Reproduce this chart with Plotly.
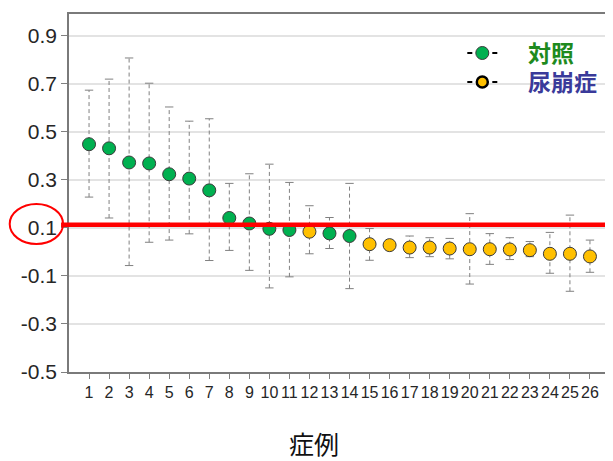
import plotly.graph_objects as go

cases = list(range(1, 27))
means = [0.448, 0.431, 0.372, 0.368, 0.323, 0.305, 0.256, 0.141, 0.118, 0.096, 0.091, 0.084, 0.077,
         0.066, 0.032, 0.028, 0.018, 0.018, 0.014, 0.011, 0.011, 0.010, 0.007, -0.008, -0.008, -0.019]
upper = [0.673, 0.719, 0.807, 0.702, 0.603, 0.544, 0.554, 0.285, 0.325, 0.365, 0.289, 0.192, 0.143,
         0.285, 0.097, 0.045, 0.066, 0.059, 0.056, 0.159, 0.076, 0.059, 0.043, 0.081, 0.153, 0.049]
lower = [0.228, 0.141, -0.057, 0.040, 0.049, 0.075, -0.036, 0.006, -0.077, -0.150, -0.104, -0.008, 0.014,
         -0.153, -0.035, 0.012, -0.024, -0.020, -0.029, -0.134, -0.052, -0.032, -0.020, -0.089, -0.164, -0.085]
groups = ["control"] * 11 + ["di", "control", "control"] + ["di"] * 12
threshold = 0.113
yticks = [-0.5, -0.3, -0.1, 0.1, 0.3, 0.5, 0.7, 0.9]
legend_names = {"control": "対照", "di": "尿崩症"}

GREEN = "#00B050"
YELLOW = "#FFC000"
ERR = "#808080"

fig = go.Figure()

# dashed error bars
ex, ey = [], []
for c, lo, hi in zip(cases, lower, upper):
    ex += [c, c, None]
    ey += [lo, hi, None]
fig.add_trace(go.Scatter(x=ex, y=ey, mode="lines", line=dict(color=ERR, width=1, dash="4px,3px"),
                         showlegend=False, hoverinfo="skip"))
# caps
fig.add_trace(go.Scatter(x=cases + cases, y=upper + lower, mode="markers",
                         marker=dict(symbol="line-ew", size=6, line=dict(color=ERR, width=1)),
                         showlegend=False, hoverinfo="skip"))

for g, col in [("control", GREEN), ("di", YELLOW)]:
    xs = [c for c, gg in zip(cases, groups) if gg == g]
    ys = [m for m, gg in zip(means, groups) if gg == g]
    fig.add_trace(go.Scatter(x=xs, y=ys, mode="markers",
                             marker=dict(color=col, size=13, line=dict(color="#3a3a3a", width=1)),
                             showlegend=False))

sp = "\u00a0" * 5
# legend-only traces
fig.add_trace(go.Scatter(x=[None], y=[None], mode="lines+markers", legend="legend",
                         name=sp + "<b><span style='color:#1E8A1E'>" + legend_names["control"] + "</span></b>",
                         line=dict(color="#000000", width=2, dash="5px,20px"),
                         marker=dict(color=GREEN, size=13, line=dict(color="#3a3a3a", width=1))))
fig.add_trace(go.Scatter(x=[None], y=[None], mode="lines+markers", legend="legend2",
                         name=sp + "<b><span style='color:#3A3A9A'>" + legend_names["di"] + "</span></b>",
                         line=dict(color="#000000", width=2, dash="5px,20px"),
                         marker=dict(color=YELLOW, size=11, line=dict(color="#000000", width=2.5))))

shapes = [
    # white patch hiding the top gridline behind legend
    dict(type="rect", xref="paper", yref="y", x0=0.698, x1=0.997, y0=0.87, y1=0.93,
         fillcolor="white", line=dict(width=0), layer="between"),
    dict(type="line", xref="paper", yref="y", x0=-0.0147, x1=1.0, y0=threshold, y1=threshold,
         line=dict(color="#FF0000", width=4.5), layer="above"),
    dict(type="circle", xref="paper", yref="y", x0=-0.1096, x1=-0.011, y0=0.033, y1=0.199,
         line=dict(color="#FF0000", width=2), layer="above"),
]

legend_style = dict(xanchor="left", yanchor="top", bgcolor="rgba(0,0,0,0)",
                    font=dict(family="Noto Sans CJK JP", size=23), tracegroupgap=0, itemwidth=30)

# page body has an 8px margin, so the figure is sized/offset to compensate
fig.update_layout(
    width=605, height=453,
    margin=dict(l=61, r=1, t=6, b=89),
    paper_bgcolor="white", plot_bgcolor="white",
    font=dict(family="Liberation Sans, Arial, sans-serif", color="#262626"),
    shapes=shapes,
    showlegend=True,
    legend=dict(x=0.727, y=0.951, **legend_style),
    legend2=dict(x=0.727, y=0.870, **legend_style),
    annotations=[dict(text="症例", xref="paper", yref="paper", x=0.453, y=-0.198,
                      showarrow=False, font=dict(family="Noto Sans CJK JP", size=25, color="#111111"),
                      xanchor="center", yanchor="middle")],
)
fig.update_xaxes(range=[0, 27], tickmode="array", tickvals=cases, ticktext=[str(c) for c in cases],
                 ticks="outside", ticklen=5, tickcolor="#808080", showline=True, linecolor="#7a7a7a",
                 linewidth=1.5, mirror=True, showgrid=False, zeroline=False, tickangle=0,
                 tickfont=dict(size=16, color="#262626"))
fig.update_yaxes(range=[-0.5, 0.99], tickmode="array", tickvals=yticks,
                 ticktext=[f"{v:.1f}" for v in yticks], ticks="outside", ticklen=6, tickcolor="#808080",
                 showline=True, linecolor="#7a7a7a", linewidth=1.5, mirror=True,
                 showgrid=True, gridcolor="#e3e3e3", gridwidth=1.5, zeroline=False,
                 tickfont=dict(size=21, color="#262626"))

fig.write_html("out.html")
